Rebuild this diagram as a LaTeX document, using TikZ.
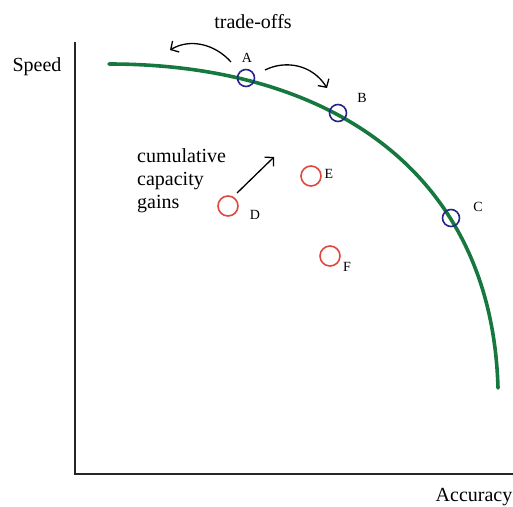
\documentclass[tikz,border=0pt]{standalone}
\usepackage{fontspec}
\setmainfont{Liberation Serif}
\usetikzlibrary{arrows.meta}
\definecolor{curvegreen}{RGB}{22,120,62}
\definecolor{navy}{RGB}{40,38,140}
\definecolor{circred}{RGB}{222,72,62}
\tikzset{
  big/.style={font=\fontsize{20}{23}\selectfont, inner sep=0pt},
  small/.style={font=\fontsize{14}{16}\selectfont, inner sep=0pt},
  bluecirc/.style={circle, draw=navy, line width=1.6pt, minimum size=17pt, inner sep=0pt},
  redcirc/.style={circle, draw=circred, line width=1.6pt, minimum size=20pt, inner sep=0pt},
  axis/.style={line width=1.8pt, black!85},
  frontier/.style={curvegreen, line width=3.6pt, line cap=round},
  move/.style={line width=1.3pt, -{Straight Barb[length=6pt,width=13pt]}},
}
\begin{document}
\begin{tikzpicture}[x=1pt,y=-1pt]
\useasboundingbox (0,0) rectangle (513,506);
% axes
\coordinate (ytop) at (75,42);
\coordinate (orig) at (75,474);
\coordinate (xend) at (513,474);
\draw[axis] (ytop) -- (orig) -- (xend);
\node[big] (speed) at (37,67) {Speed};
\node[big] (acc) at (474,497) {Accuracy};
% frontier
\coordinate (fs) at (109,64);
\coordinate (fe) at (498,388);
\draw[frontier] (fs) .. controls (330,64) and (492,172) .. (fe);
% points on frontier
\node[bluecirc] (A) at (246,78) {};
\node[bluecirc] (B) at (338,113) {};
\node[bluecirc] (C) at (451,218) {};
\node[small] (Alab) at (247,58) {A};
\node[small] (Blab) at (362,98) {B};
\node[small] (Clab) at (478,207) {C};
% interior points
\node[redcirc] (D) at (228,206) {};
\node[redcirc] (E) at (311,176) {};
\node[redcirc] (F) at (330,256) {};
\node[small] (Dlab) at (255,215) {D};
\node[small] (Elab) at (329,174) {E};
\node[small] (Flab) at (347,267) {F};
% trade-offs
\node[big] (trade) at (253,22) {trade-offs};
\coordinate (l0) at (231,62);
\coordinate (l1) at (170,50);
\coordinate (r0) at (265,70);
\coordinate (r1) at (327,88);
\draw[move] (l0) .. controls (215,44) and (190,38) .. (l1);
\draw[move] (r0) .. controls (285,60) and (312,64) .. (r1);
% cumulative capacity gains
\node[big, align=left, anchor=west] (gains) at (137,181) {cumulative\\capacity\\gains};
\coordinate (g0) at (237,193);
\coordinate (g1) at (274,157);
\draw[move] (g0) -- (g1);
\end{tikzpicture}
\end{document}
